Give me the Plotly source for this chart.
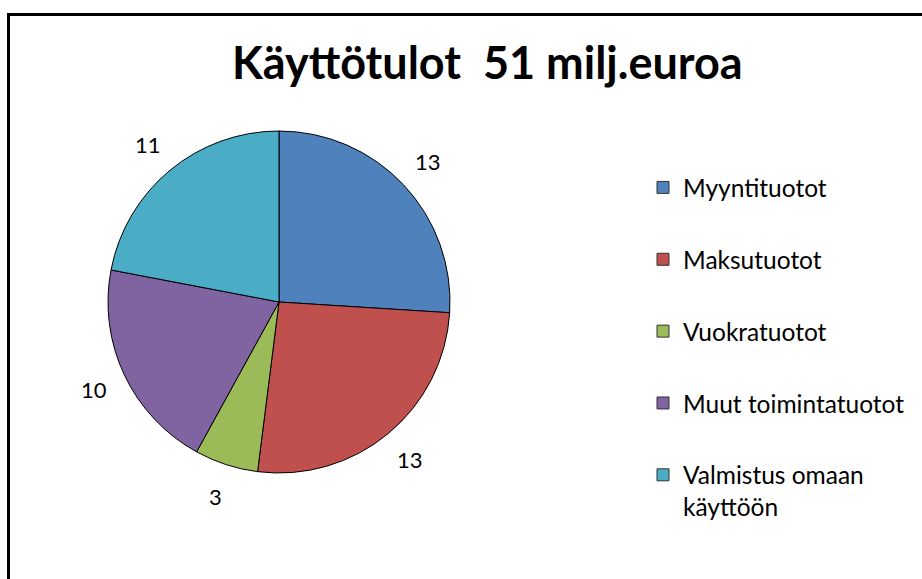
import math
import plotly.graph_objects as go

# ---- data ----
labels = ["Myyntituotot", "Maksutuotot", "Vuokratuotot", "Muut toimintatuotot", "Valmistus omaan käyttöön"]
legend_names = ["Myyntituotot", "Maksutuotot", "Vuokratuotot", "Muut toimintatuotot", "Valmistus omaan<br>käyttöön"]
values = [13, 13, 3, 10, 11]
colors = ["#4F81BD", "#C0504D", "#9BBB59", "#8064A2", "#4BACC6"]
title_text = "Käyttötulot  51 milj.euroa"

W, H = 922, 579
FONT = "Lato, 'Open Sans', sans-serif"

# pie geometry (pixels)
cx, cy, r = 279, 302, 171
label_r = 205

fig = go.Figure()
fig.add_trace(go.Pie(
    labels=labels, values=values, sort=False, direction="clockwise", rotation=0,
    marker=dict(colors=colors, line=dict(color="#000000", width=1)),
    textinfo="none", hoverinfo="label+value", showlegend=False,
    domain=dict(x=[(cx - r) / W, (cx + r) / W], y=[1 - (cy + r) / H, 1 - (cy - r) / H]),
))

# legend entries (one group each so the gap can be set)
for name, col in zip(legend_names, colors):
    fig.add_trace(go.Scatter(
        x=[None], y=[None], mode="markers", name=name, legendgroup=name,
        marker=dict(symbol="square", size=12, color=col, line=dict(color="#333333", width=1)),
    ))

# data labels placed outside the slices at mid-angle
total = sum(values)
cum = 0
annotations = []
for v in values:
    theta = 2 * math.pi * (cum + v / 2) / total
    cum += v
    px = cx + label_r * math.sin(theta)
    py = cy - label_r * math.cos(theta)
    annotations.append(dict(
        x=px / W, y=1 - py / H, xref="paper", yref="paper", text=str(v), showarrow=False,
        xanchor="center", yanchor="middle", font=dict(family=FONT, size=22, color="#000000"),
    ))

annotations.append(dict(
    x=487 / W, y=1 - 62 / H, xref="paper", yref="paper", text="<b>" + title_text + "</b>",
    showarrow=False, xanchor="center", yanchor="middle",
    font=dict(family=FONT, size=45, color="#000000"),
))

fig.update_layout(
    width=W, height=H, margin=dict(l=0, r=0, t=0, b=0),
    paper_bgcolor="white", plot_bgcolor="white",
    xaxis=dict(visible=False), yaxis=dict(visible=False),
    annotations=annotations,
    legend=dict(x=643 / W, y=1 - 165 / H, xanchor="left", yanchor="top",
                font=dict(family=FONT, size=24.5, color="#000000"),
                tracegroupgap=37, valign="top", bgcolor="rgba(0,0,0,0)"),
    shapes=[dict(type="rect", xref="paper", yref="paper",
                 x0=8.5 / W, x1=1.2, y0=-0.2, y1=1 - 14.5 / H,
                 line=dict(color="#000000", width=3))],
)

fig.write_html("out.html", config={"displayModeBar": False},
               post_script="document.body.style.margin='0';document.body.style.padding='0';")
